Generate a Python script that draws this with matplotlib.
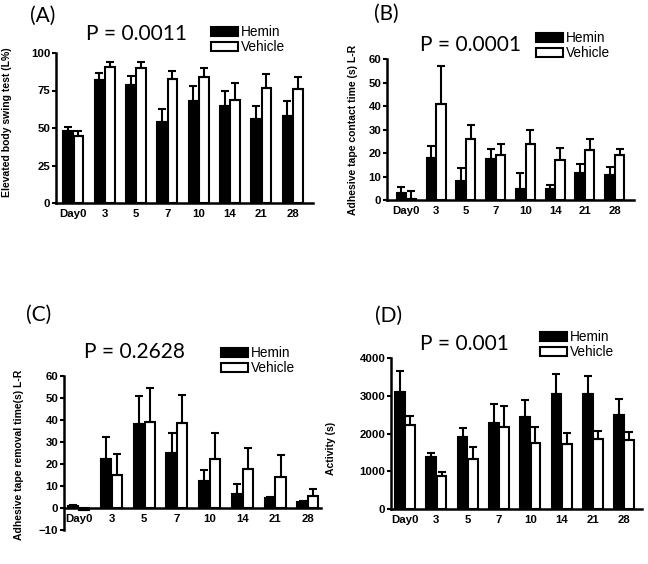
import numpy as np
import matplotlib
matplotlib.use('Agg')
import matplotlib.pyplot as plt
from matplotlib.patches import Patch

# Common categories
days = ['Day0', '3', '5', '7', '10', '14', '21', '28']

# (A) Elevated body swing test
a_hemin = [48, 82, 79, 54, 68, 65, 56, 58]
a_hemin_err = [3, 5, 6, 9, 10, 10, 9, 10]
a_vehicle = [45, 91, 90, 83, 84, 69, 77, 76]
a_vehicle_err = [3, 3, 4, 5, 6, 11, 9, 8]

# (B) Adhesive tape contact time
b_hemin = [3.1, 18, 8.2, 17.6, 4.5, 4.7, 11.5, 10.8]
b_hemin_err = [2.6, 5, 5.3, 3.9, 6.9, 1.6, 4, 3.2]
b_vehicle = [0.3, 40.8, 25.9, 19, 23.8, 17, 21.2, 19.2]
b_vehicle_err = [3.5, 16.2, 6, 4.8, 6.1, 5.3, 4.7, 2.7]

# (C) Adhesive tape removal time
c_hemin = [0.9, 22.5, 38.4, 25.2, 12.2, 6.5, 4.7, 2.9]
c_hemin_err = [0.5, 9.9, 12.5, 9.1, 5, 4.6, 0.3, 0.3]
c_vehicle = [-0.8, 14.9, 39, 38.8, 22.5, 17.6, 14, 5.3]
c_vehicle_err = [0.3, 9.6, 15.4, 12.6, 11.7, 9.9, 9.9, 3.4]

# (D) Activity
d_hemin = [3090, 1370, 1920, 2270, 2450, 3045, 3055, 2495]
d_hemin_err = [555, 125, 220, 515, 445, 530, 460, 415]
d_vehicle = [2230, 885, 1330, 2160, 1745, 1715, 1850, 1830]
d_vehicle_err = [240, 97, 300, 560, 435, 310, 220, 205]

W, H = 648, 564
fig = plt.figure(figsize=(W / 100, H / 100), dpi=100)

def px_axes(l, r, t, b):
    return fig.add_axes([l / W, 1 - b / H, (r - l) / W, (b - t) / H])

def draw_panel(ax, hem, hem_err, veh, veh_err, ylim, yticks, xlim, ylabel, labcoords, zero_spine=False):
    x = np.arange(len(days))
    bw = 0.31
    ax.bar(x - 0.165, hem, width=bw, color='black', edgecolor='black', linewidth=1.5, zorder=2)
    ax.bar(x + 0.165, veh, width=bw, color='white', edgecolor='black', linewidth=1.5, zorder=2)
    n = len(days)
    ax.errorbar(x - 0.165, hem, yerr=[np.zeros(n), hem_err], fmt='none', ecolor='black',
                elinewidth=1.5, capsize=3, capthick=1.5, zorder=3)
    ax.errorbar(x + 0.165, veh, yerr=[np.zeros(n), veh_err], fmt='none', ecolor='black',
                elinewidth=1.5, capsize=3, capthick=1.5, zorder=3)
    ax.set_xlim(*xlim)
    ax.set_ylim(*ylim)
    ax.set_yticks(yticks)
    ax.set_xticks(x)
    ax.set_xticklabels(days)
    ax.spines['top'].set_visible(False)
    ax.spines['right'].set_visible(False)
    ax.spines['left'].set_linewidth(1.8)
    ax.spines['bottom'].set_linewidth(1.8)
    if zero_spine:
        ax.spines['bottom'].set_position(('data', 0))
    ax.tick_params(axis='x', length=0, pad=4)
    ax.tick_params(axis='y', length=3, width=1.5, pad=1)
    for lab in ax.get_xticklabels() + ax.get_yticklabels():
        lab.set_fontweight('bold')
        lab.set_fontsize(8.2)
        lab.set_family('Liberation Sans')
    ax.set_ylabel(ylabel, fontsize=7.5, fontweight='bold', family='Liberation Sans')
    ax.yaxis.set_label_coords(*labcoords)

def add_legend(ax, x, y):
    handles = [Patch(facecolor='black', edgecolor='black', linewidth=1.5),
               Patch(facecolor='white', edgecolor='black', linewidth=1.5)]
    ax.legend(handles, ['Hemin', 'Vehicle'], loc='upper left', bbox_to_anchor=(x / W, 1 - y / H),
              bbox_transform=fig.transFigure, frameon=False, borderpad=0, borderaxespad=0,
              handlelength=2.0, handleheight=0.6, handletextpad=0.2, labelspacing=0.1,
              prop={'family': 'Liberation Sans', 'size': 9.8})

def add_text(x, y, s, size):
    fig.text(x / W, 1 - y / H, s, fontsize=size, family='Lato', ha='left', va='center')

# A
axA = px_axes(56, 313, 53, 203)
draw_panel(axA, a_hemin, a_hemin_err, a_vehicle, a_vehicle_err, (0, 100), [0, 25, 50, 75, 100],
           (-0.55, 7.65), 'Elevated body swing test (L%)', (-0.171, 0.54))
add_legend(axA, 211, 25)
add_text(30, 16, '(A)', 15)
add_text(86, 34, 'P = 0.0011', 15)

# B
axB = px_axes(387, 634, 59, 200)
draw_panel(axB, b_hemin, b_hemin_err, b_vehicle, b_vehicle_err, (0, 60), [0, 10, 20, 30, 40, 50, 60],
           (-0.65, 7.65), 'Adhesive tape contact time (s) L-R', (-0.117, 0.5))
add_legend(axB, 536, 31)
add_text(374, 14, '(B)', 15)
add_text(420, 45, 'P = 0.0001', 15)

# C
axC = px_axes(64, 321, 376, 530)
draw_panel(axC, c_hemin, c_hemin_err, c_vehicle, c_vehicle_err, (-10, 60),
           [-10, 0, 10, 20, 30, 40, 50, 60], (-0.45, 7.4),
           'Adhesive tape removal time(s) L-R', (-0.156, 0.49), zero_spine=True)
add_legend(axC, 221, 346)
add_text(26, 315, '(C)', 15)
add_text(84, 352, 'P = 0.2628', 15)

# D
axD = px_axes(391, 642, 358, 509)
draw_panel(axD, d_hemin, d_hemin_err, d_vehicle, d_vehicle_err, (0, 4000),
           [0, 1000, 2000, 3000, 4000], (-0.45, 7.57), 'Activity (s)', (-0.22, 0.40))
add_legend(axD, 540, 330)
add_text(375, 316, '(D)', 15)
add_text(420, 344, 'P = 0.001', 15)

fig.savefig('out.png', dpi=100)
